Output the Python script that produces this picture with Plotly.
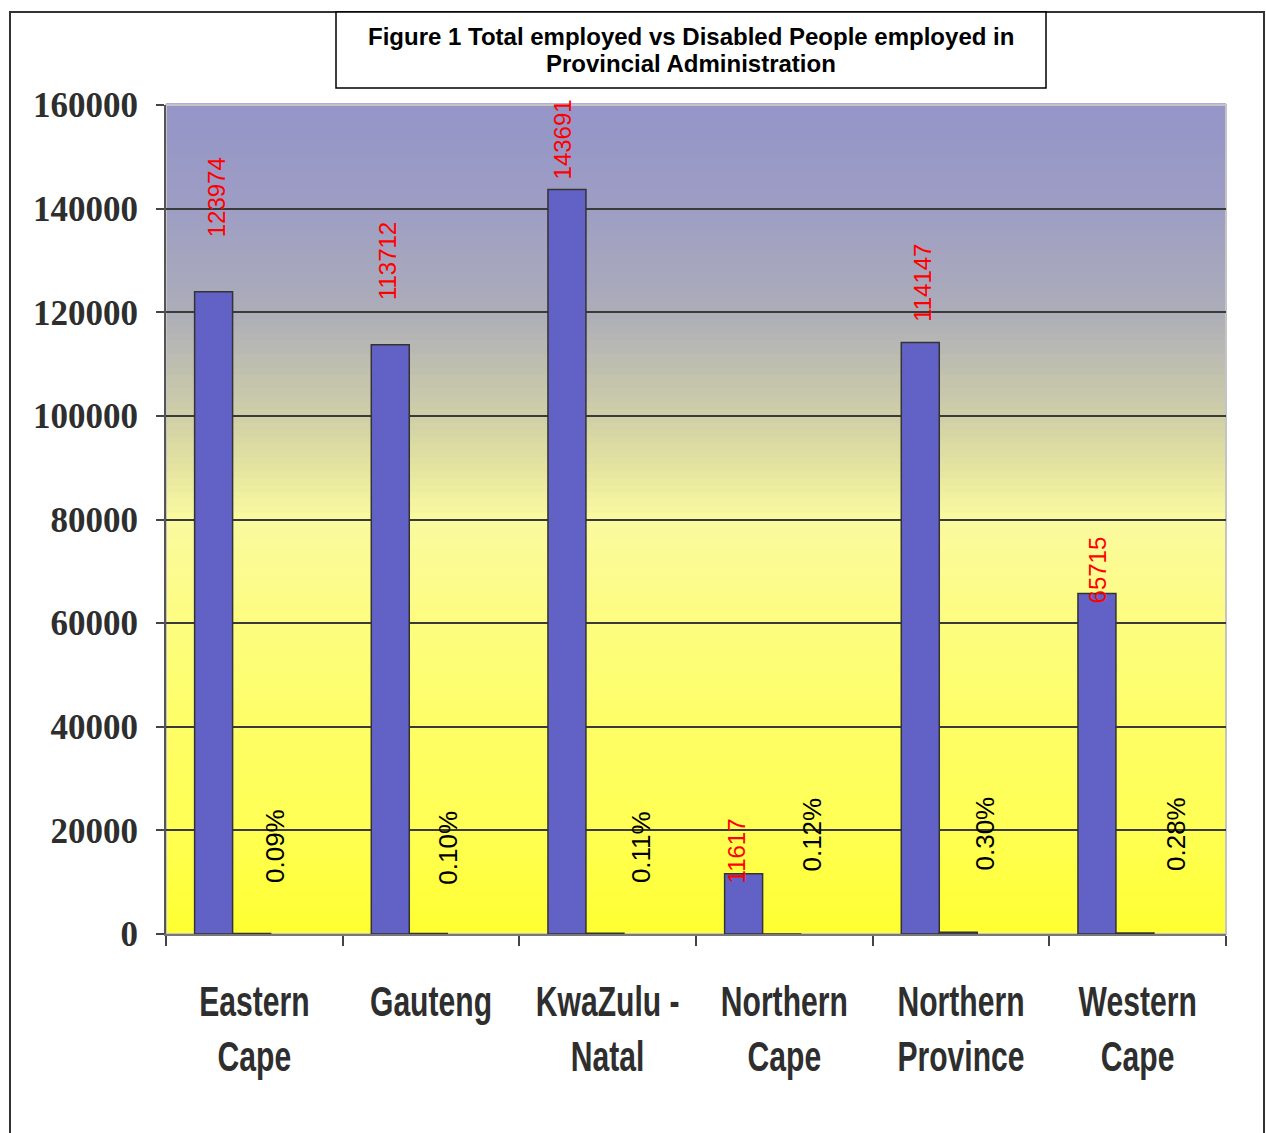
import numpy as np
import plotly.graph_objects as go

# Provincial administration staff: total employed vs disabled people employed
provinces = ["Eastern<br>Cape", "Gauteng", "KwaZulu -<br>Natal", "Northern<br>Cape",
             "Northern<br>Province", "Western<br>Cape"]
total_employed = [123974, 113712, 143691, 11617, 114147, 65715]
disabled_employed = [112, 114, 158, 14, 342, 184]
disabled_share = ["0.09%", "0.10%", "0.11%", "0.12%", "0.30%", "0.28%"]
y_ticks = [0, 20000, 40000, 60000, 80000, 100000, 120000, 140000, 160000]
title_lines = ["Figure 1 Total employed vs Disabled People employed in",
               "Provincial Administration"]

# hand-placed label offsets (pixels)
total_label_dy = [94, 84, 50, 23, 60, 24]
total_label_dx = [3, -2, -4, -7, 2, 1]
share_label_dy = [87, 86, 86, 99, 99, 99]
share_label_dx = [24, 20, 36, 30, 27, 41]

W, H = 1266, 1133
L, R, T, B = 166, 40, 105, 199
pw, ph = W - L - R, H - T - B


def px(x):
    return (x - L) / pw


def py(y):
    return (H - B - y) / ph


BAR_W = 0.215
OFF_TOTAL = -0.338
OFF_DIS = OFF_TOTAL + BAR_W
bar_fill = "#6262c6"
bar_line = dict(color="#333333", width=1.5)

fig = go.Figure()
fig.add_trace(go.Bar(x=provinces, y=total_employed, width=BAR_W, offset=OFF_TOTAL,
                     marker=dict(color=bar_fill, line=bar_line), name="Total employed"))
fig.add_trace(go.Bar(x=provinces, y=disabled_employed, width=BAR_W, offset=OFF_DIS,
                     marker=dict(color=bar_fill, line=bar_line), name="Disabled employed"))

annotations = []
for i, v in enumerate(total_employed):
    annotations.append(dict(x=i + OFF_TOTAL + BAR_W / 2, y=v, xref="x", yref="y",
                            text=str(v), textangle=-90, showarrow=False,
                            xanchor="center", yanchor="middle",
                            yshift=total_label_dy[i], xshift=total_label_dx[i],
                            font=dict(family="Liberation Sans, Arial", size=24, color="#ff0000")))
for i, v in enumerate(disabled_employed):
    annotations.append(dict(x=i + OFF_DIS + BAR_W / 2, y=v, xref="x", yref="y",
                            text=disabled_share[i], textangle=-90, showarrow=False,
                            xanchor="center", yanchor="middle",
                            yshift=share_label_dy[i], xshift=share_label_dx[i],
                            font=dict(family="Liberation Sans, Arial", size=26, color="#000000")))

# chart title, two centred lines inside a framed box
for line, ypix in zip(title_lines, [37, 64]):
    annotations.append(dict(x=px(691), y=py(ypix), xref="paper", yref="paper",
                            text=f"<b>{line}</b>", showarrow=False,
                            xanchor="center", yanchor="middle",
                            font=dict(family="Liberation Sans, Arial", size=24, color="#000000")))

shapes = []
# vertical background gradient: lavender at the top fading to yellow at the bottom
stops = [(0.0, (255, 255, 48)), (0.125, (255, 255, 84)), (0.25, (254, 254, 102)),
         (0.375, (253, 253, 128)), (0.5, (250, 250, 160)), (0.5625, (228, 228, 160)),
         (0.625, (207, 207, 168)), (0.75, (173, 173, 185)), (0.875, (157, 157, 196)),
         (1.0, (149, 149, 200))]
sp = np.array([s[0] for s in stops])
sc = np.array([s[1] for s in stops], dtype=float)
n = 120
for k in range(n):
    y0, y1 = k / n, (k + 1) / n
    ym = (y0 + y1) / 2
    c = [int(round(np.interp(ym, sp, sc[:, j]))) for j in range(3)]
    shapes.append(dict(type="rect", xref="x domain", yref="y domain", x0=0, x1=1,
                       y0=y0, y1=y1 + 0.002, layer="below",
                       fillcolor=f"rgb({c[0]},{c[1]},{c[2]})", line=dict(width=0)))
# light frame on the top and right of the plot area
shapes.append(dict(type="rect", xref="x domain", yref="y domain", x0=0, x1=1, y0=0, y1=1,
                   layer="below", line=dict(color="#c4c4c4", width=2)))
# outer chart frame
shapes.append(dict(type="rect", xref="paper", yref="paper", x0=px(10), x1=px(1264),
                   y0=py(1160), y1=py(12), line=dict(color="#333333", width=2), layer="below"))
# title box
shapes.append(dict(type="rect", xref="paper", yref="paper", x0=px(336), x1=px(1046),
                   y0=py(88), y1=py(12), line=dict(color="#000000", width=1.5),
                   fillcolor="#ffffff", layer="above"))

fig.update_layout(
    width=W, height=H,
    margin=dict(l=L, r=R, t=T, b=B, pad=0, autoexpand=False),
    paper_bgcolor="#ffffff", plot_bgcolor="#ffffff",
    showlegend=False, barmode="group",
    annotations=annotations, shapes=shapes,
)
fig.update_yaxes(range=[0, 160000], tickvals=y_ticks, ticktext=[str(t) for t in y_ticks],
                 showgrid=True, gridcolor="#3a3a3a", gridwidth=2,
                 showline=True, linecolor="#555555", linewidth=2,
                 ticks="outside", ticklen=8, tickcolor="#444444", tickwidth=2,
                 ticklabelstandoff=11, zeroline=False, automargin=False,
                 tickfont=dict(family="Liberation Serif, Times New Roman", size=35,
                               color="#2e2e2e", weight="bold"))
fig.update_xaxes(type="category", tickson="boundaries", showgrid=False,
                 showline=True, linecolor="#777777", linewidth=2,
                 ticks="outside", ticklen=10, tickcolor="#444444", tickwidth=2,
                 tickangle=0, automargin=False, ticklabelstandoff=28,
                 tickfont=dict(family="Liberation Sans, Arial", size=43,
                               color="#2e2e2e", weight="bold"))

# narrow the category labels horizontally to give them a condensed look
condense_js = """
var gd = document.getElementById('{plot_id}');
gd.querySelectorAll('.xtick text').forEach(function (t) {
  var tr = t.getAttribute('transform') || '';
  t.setAttribute('transform', tr + ' scale(0.7,1)');
});
"""
fig.write_html("out.html", post_script=condense_js)
